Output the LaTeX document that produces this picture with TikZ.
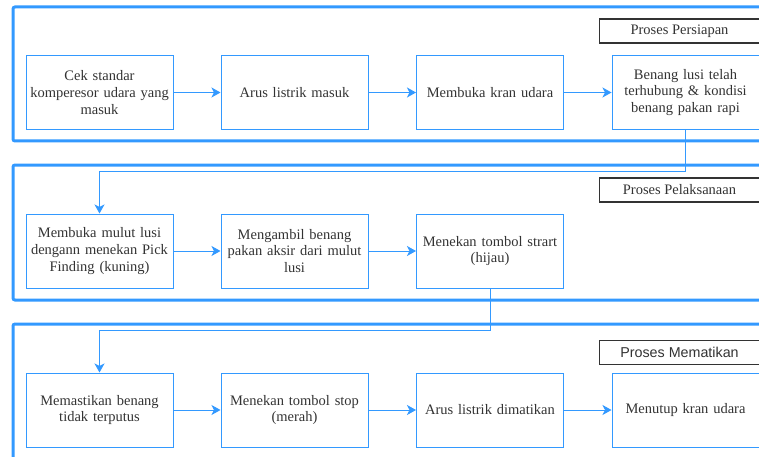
\documentclass[tikz,border=0pt]{standalone}
\usepackage{fontspec}
\setmainfont{Liberation Serif}
\newfontfamily\labsans{Liberation Sans}
\usetikzlibrary{arrows.meta}
\definecolor{fblue}{HTML}{3399FF}
\definecolor{txt}{HTML}{333333}
\tikzset{
  frame/.style={draw=fblue, line width=3pt, rounded corners=2pt},
  stepbox/.style={draw=fblue, line width=1pt, fill=white, text=txt, align=center,
    minimum width=147pt, minimum height=74pt, text width=143pt, inner sep=0pt,
    font=\fontsize{14.5}{16.8}\selectfont},
  tagbox/.style={draw=txt, line width=1.3pt, fill=white, text=txt,
    minimum width=160pt, minimum height=24pt, inner sep=0pt,
    font=\fontsize{14.5}{16}\selectfont},
  link/.style={draw=fblue, line width=1pt, -{Stealth[length=9pt,width=10pt,inset=2.5pt]}},
  wire/.style={draw=fblue, line width=1pt}
}
\begin{document}
\begin{tikzpicture}[x=1pt,y=-1pt]
\useasboundingbox (0,0) rectangle (759,457);
\clip (0,0) rectangle (759,457);
% frames
\draw[frame] (13,7) rectangle (780,141);
\draw[frame] (13,165) rectangle (780,300);
\draw[frame] (13,324) rectangle (780,480);
% row 1
\node[stepbox] (a1) at (99.5,92.5) {Cek standar\\komperesor udara yang\\masuk};
\node[stepbox] (a2) at (294.5,92.5) {Arus listrik masuk};
\node[stepbox] (a3) at (490,92.5) {Membuka kran udara};
\node[stepbox] (a4) at (685.5,92.5) {Benang lusi telah\\terhubung \& kondisi\\benang pakan rapi};
\node[tagbox] (t1) at (679.5,31) {Proses Persiapan};
% row 2
\node[stepbox] (b1) at (99.5,251) {Membuka mulut lusi\\dengann menekan Pick\\Finding (kuning)};
\node[stepbox] (b2) at (294.5,251) {Mengambil benang\\pakan aksir dari mulut\\lusi};
\node[stepbox] (b3) at (490,251) {Menekan tombol strart\\(hijau)};
\node[tagbox] (t2) at (679.5,190) {Proses Pelaksanaan};
% row 3
\node[stepbox] (c1) at (99.5,410) {Memastikan benang\\tidak terputus};
\node[stepbox] (c2) at (294.5,410) {Menekan tombol stop\\(merah)};
\node[stepbox] (c3) at (490,410) {Arus listrik dimatikan};
\node[stepbox] (c4) at (685.5,410) {Menutup kran udara};
\node[tagbox, font=\labsans\fontsize{14.3}{16}\selectfont] (t3) at (679.5,352.5) {Proses Mematikan};
% connectors
\draw[link] (a1) -- (a2);
\draw[link] (a2) -- (a3);
\draw[link] (a3) -- (a4);
\coordinate (k1) at (685.5,171);
\draw[link] (a4.south) -- (k1) -| (b1.north);
\draw[link] (b1) -- (b2);
\draw[link] (b2) -- (b3);
\coordinate (k2) at (490,330);
\draw[link] (b3.south) -- (k2) -| (c1.north);
\draw[link] (c1) -- (c2);
\draw[link] (c2) -- (c3);
\draw[link] (c3) -- (c4);
\end{tikzpicture}
\end{document}
